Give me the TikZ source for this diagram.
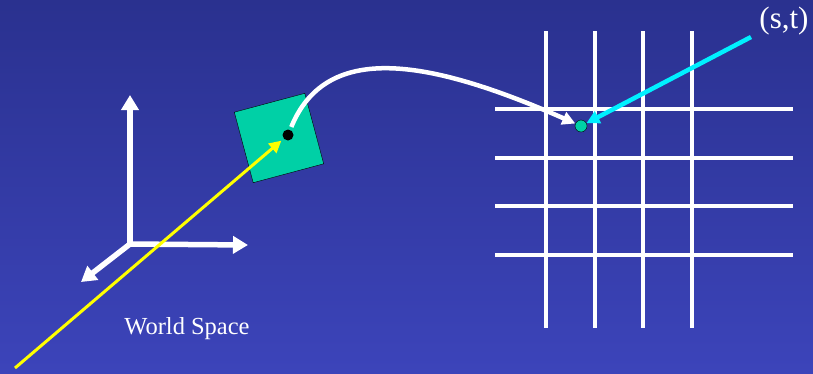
\documentclass[tikz,border=0pt]{standalone}
\usepackage{fontspec}
\setmainfont{Liberation Serif}
\usetikzlibrary{arrows.meta}
\definecolor{bgtop}{RGB}{42,49,143}
\definecolor{bgbot}{RGB}{60,68,186}
\definecolor{quadgreen}{RGB}{0,208,166}
\definecolor{raycyan}{RGB}{0,240,255}
\definecolor{rayyellow}{RGB}{255,255,0}
\tikzset{
  axis/.style={white,line width=5.5pt,-{Triangle[length=15pt,width=17pt]}},
  gridline/.style={white,line width=3.5pt},
  dot/.style={circle,inner sep=0pt,minimum size=#1}
}
\begin{document}
\begin{tikzpicture}[x=1pt,y=-1pt]
%background
\shade[top color=bgtop,bottom color=bgbot] (0,0) rectangle (813,373);
\useasboundingbox (0,0) rectangle (813,373);
%axes
\coordinate (o) at (130,244);
\draw[axis] (o) -- (130,95);
\draw[axis] (o) -- (248,245);
\draw[axis] (o) -- (81,282);
\node[white,font=\fontsize{24.5}{28}\selectfont] (world) at (187,329) {World Space};
%grid
\foreach \x in {546,595,643,692}
  \draw[gridline] (\x,31) -- (\x,328);
\foreach \y in {109,158,206,255}
  \draw[gridline] (495,\y) -- (793,\y);
%quad
\node[draw=black,fill=quadgreen,minimum size=73pt,rotate=15] (quad) at (279,138) {};
\node[dot=11pt,fill=black] (p) at (288,135) {};
\node[dot=12pt,fill=quadgreen,draw=black,thin] (st) at (581,126) {};
%rays
\coordinate (eye) at (15,368);
\coordinate (src) at (751,37);
\draw[rayyellow,line width=3pt,-{Triangle[length=12pt,width=12pt]},shorten >=3pt] (eye) -- (p);
\draw[raycyan,line width=4.5pt,-{Triangle[length=13pt,width=13pt]}] (src) -- (st);
\draw[white,line width=4.5pt,-{Triangle[length=13pt,width=13pt]},shorten <=3pt] (p) .. controls (325,45) and (420,55) .. (st);
%text
\node[white,font=\fontsize{31}{36}\selectfont] (stlabel) at (784,21) {(s,t)};
\end{tikzpicture}
\end{document}
